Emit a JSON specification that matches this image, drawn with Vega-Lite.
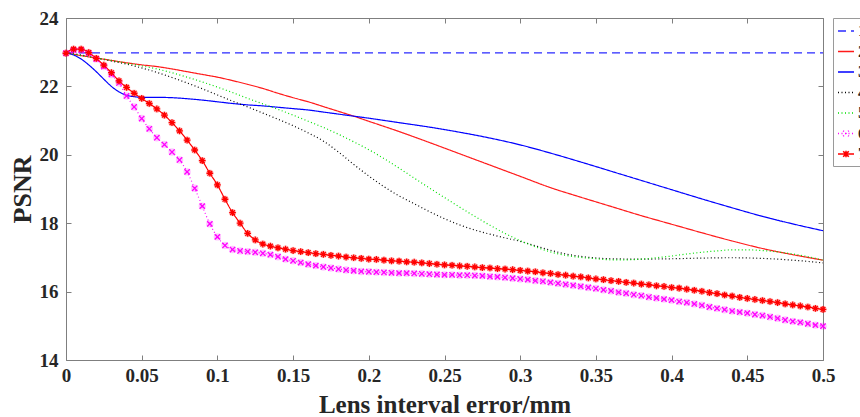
{
"$schema": "https://vega.github.io/schema/vega-lite/v6.json",
"width": 757, "height": 342,
"autosize": "none",
"padding": {"left": 66, "top": 18, "right": 37, "bottom": 57},
"background": "white",
"config": {
  "view": {"stroke": null},
  "font": "Liberation Serif",
  "axis": {"grid": false, "domainColor": "#7f7f7f", "tickColor": "#7f7f7f", "tickSize": -5, "domainWidth": 1, "tickWidth": 1,
    "labelFont": "Liberation Serif", "labelFontWeight": "bold", "labelFontSize": 19, "labelColor": "#262626",
    "titleFont": "Liberation Serif", "titleFontWeight": "bold", "titleFontSize": 25, "titleColor": "#262626",
    "labelFlush": false, "labelOverlap": false, "labelBound": false}
},
"datasets": {
"all": [
{"s":"1","x":0,"y":22.98},{"s":"1","x":0.5,"y":22.98},
{"s":"2","x":0,"y":22.98},{"s":"2","x":0.01,"y":22.9},{"s":"2","x":0.02,"y":22.83},{"s":"2","x":0.03,"y":22.76},{"s":"2","x":0.04,"y":22.69},{"s":"2","x":0.05,"y":22.63},{"s":"2","x":0.06,"y":22.58},{"s":"2","x":0.07,"y":22.51},{"s":"2","x":0.08,"y":22.43},{"s":"2","x":0.09,"y":22.35},{"s":"2","x":0.1,"y":22.27},{"s":"2","x":0.11,"y":22.17},{"s":"2","x":0.12,"y":22.06},{"s":"2","x":0.13,"y":21.94},{"s":"2","x":0.14,"y":21.8},{"s":"2","x":0.15,"y":21.67},{"s":"2","x":0.16,"y":21.55},{"s":"2","x":0.17,"y":21.41},{"s":"2","x":0.18,"y":21.27},{"s":"2","x":0.19,"y":21.13},{"s":"2","x":0.2,"y":20.98},{"s":"2","x":0.22,"y":20.68},{"s":"2","x":0.24,"y":20.36},{"s":"2","x":0.26,"y":20.03},{"s":"2","x":0.28,"y":19.7},{"s":"2","x":0.3,"y":19.37},{"s":"2","x":0.32,"y":19.04},{"s":"2","x":0.34,"y":18.76},{"s":"2","x":0.36,"y":18.49},{"s":"2","x":0.38,"y":18.22},{"s":"2","x":0.4,"y":17.97},{"s":"2","x":0.42,"y":17.72},{"s":"2","x":0.44,"y":17.48},{"s":"2","x":0.46,"y":17.26},{"s":"2","x":0.48,"y":17.08},{"s":"2","x":0.5,"y":16.92},
{"s":"3","x":0,"y":22.98},{"s":"3","x":0.005,"y":22.92},{"s":"3","x":0.01,"y":22.8},{"s":"3","x":0.015,"y":22.63},{"s":"3","x":0.02,"y":22.43},{"s":"3","x":0.025,"y":22.21},{"s":"3","x":0.03,"y":22.0},{"s":"3","x":0.035,"y":21.84},{"s":"3","x":0.04,"y":21.74},{"s":"3","x":0.045,"y":21.7},{"s":"3","x":0.05,"y":21.68},{"s":"3","x":0.06,"y":21.68},{"s":"3","x":0.07,"y":21.67},{"s":"3","x":0.08,"y":21.64},{"s":"3","x":0.09,"y":21.6},{"s":"3","x":0.1,"y":21.55},{"s":"3","x":0.11,"y":21.5},{"s":"3","x":0.12,"y":21.46},{"s":"3","x":0.13,"y":21.43},{"s":"3","x":0.14,"y":21.39},{"s":"3","x":0.15,"y":21.35},{"s":"3","x":0.16,"y":21.31},{"s":"3","x":0.17,"y":21.25},{"s":"3","x":0.18,"y":21.19},{"s":"3","x":0.19,"y":21.13},{"s":"3","x":0.2,"y":21.07},{"s":"3","x":0.22,"y":20.94},{"s":"3","x":0.24,"y":20.81},{"s":"3","x":0.26,"y":20.66},{"s":"3","x":0.28,"y":20.49},{"s":"3","x":0.3,"y":20.29},{"s":"3","x":0.32,"y":20.05},{"s":"3","x":0.34,"y":19.79},{"s":"3","x":0.36,"y":19.52},{"s":"3","x":0.38,"y":19.25},{"s":"3","x":0.4,"y":18.98},{"s":"3","x":0.42,"y":18.71},{"s":"3","x":0.44,"y":18.45},{"s":"3","x":0.46,"y":18.2},{"s":"3","x":0.48,"y":17.98},{"s":"3","x":0.5,"y":17.78},
{"s":"4","x":0,"y":22.98},{"s":"4","x":0.01,"y":22.92},{"s":"4","x":0.02,"y":22.83},{"s":"4","x":0.03,"y":22.74},{"s":"4","x":0.04,"y":22.65},{"s":"4","x":0.05,"y":22.54},{"s":"4","x":0.06,"y":22.41},{"s":"4","x":0.07,"y":22.26},{"s":"4","x":0.08,"y":22.1},{"s":"4","x":0.09,"y":21.93},{"s":"4","x":0.1,"y":21.75},{"s":"4","x":0.11,"y":21.57},{"s":"4","x":0.12,"y":21.4},{"s":"4","x":0.13,"y":21.22},{"s":"4","x":0.14,"y":21.04},{"s":"4","x":0.15,"y":20.85},{"s":"4","x":0.16,"y":20.64},{"s":"4","x":0.17,"y":20.4},{"s":"4","x":0.18,"y":20.08},{"s":"4","x":0.19,"y":19.72},{"s":"4","x":0.2,"y":19.38},{"s":"4","x":0.21,"y":19.07},{"s":"4","x":0.22,"y":18.8},{"s":"4","x":0.23,"y":18.57},{"s":"4","x":0.24,"y":18.34},{"s":"4","x":0.25,"y":18.13},{"s":"4","x":0.26,"y":17.95},{"s":"4","x":0.27,"y":17.8},{"s":"4","x":0.28,"y":17.68},{"s":"4","x":0.29,"y":17.57},{"s":"4","x":0.3,"y":17.47},{"s":"4","x":0.31,"y":17.34},{"s":"4","x":0.32,"y":17.21},{"s":"4","x":0.33,"y":17.1},{"s":"4","x":0.34,"y":17.03},{"s":"4","x":0.36,"y":16.96},{"s":"4","x":0.38,"y":16.95},{"s":"4","x":0.4,"y":16.96},{"s":"4","x":0.42,"y":16.98},{"s":"4","x":0.44,"y":16.99},{"s":"4","x":0.46,"y":16.97},{"s":"4","x":0.48,"y":16.92},{"s":"4","x":0.5,"y":16.84},
{"s":"5","x":0,"y":22.98},{"s":"5","x":0.01,"y":22.9},{"s":"5","x":0.02,"y":22.83},{"s":"5","x":0.03,"y":22.76},{"s":"5","x":0.04,"y":22.68},{"s":"5","x":0.05,"y":22.6},{"s":"5","x":0.06,"y":22.51},{"s":"5","x":0.07,"y":22.4},{"s":"5","x":0.08,"y":22.27},{"s":"5","x":0.09,"y":22.13},{"s":"5","x":0.1,"y":21.98},{"s":"5","x":0.11,"y":21.82},{"s":"5","x":0.12,"y":21.65},{"s":"5","x":0.13,"y":21.49},{"s":"5","x":0.14,"y":21.33},{"s":"5","x":0.15,"y":21.16},{"s":"5","x":0.16,"y":20.98},{"s":"5","x":0.17,"y":20.8},{"s":"5","x":0.18,"y":20.6},{"s":"5","x":0.19,"y":20.38},{"s":"5","x":0.2,"y":20.15},{"s":"5","x":0.21,"y":19.89},{"s":"5","x":0.22,"y":19.61},{"s":"5","x":0.23,"y":19.32},{"s":"5","x":0.24,"y":19.03},{"s":"5","x":0.25,"y":18.75},{"s":"5","x":0.26,"y":18.47},{"s":"5","x":0.27,"y":18.2},{"s":"5","x":0.28,"y":17.94},{"s":"5","x":0.29,"y":17.7},{"s":"5","x":0.3,"y":17.49},{"s":"5","x":0.31,"y":17.31},{"s":"5","x":0.32,"y":17.16},{"s":"5","x":0.33,"y":17.06},{"s":"5","x":0.34,"y":17.0},{"s":"5","x":0.35,"y":16.96},{"s":"5","x":0.36,"y":16.93},{"s":"5","x":0.37,"y":16.93},{"s":"5","x":0.38,"y":16.95},{"s":"5","x":0.39,"y":16.99},{"s":"5","x":0.4,"y":17.04},{"s":"5","x":0.41,"y":17.1},{"s":"5","x":0.42,"y":17.15},{"s":"5","x":0.43,"y":17.19},{"s":"5","x":0.44,"y":17.22},{"s":"5","x":0.45,"y":17.22},{"s":"5","x":0.46,"y":17.2},{"s":"5","x":0.47,"y":17.16},{"s":"5","x":0.48,"y":17.1},{"s":"5","x":0.49,"y":17.02},{"s":"5","x":0.5,"y":16.92},
{"s":"6","x":0,"y":22.97},{"s":"6","x":0.005,"y":23.06},{"s":"6","x":0.01,"y":23.06},{"s":"6","x":0.015,"y":22.97},{"s":"6","x":0.02,"y":22.8},{"s":"6","x":0.025,"y":22.58},{"s":"6","x":0.03,"y":22.35},{"s":"6","x":0.035,"y":22.1},{"s":"6","x":0.04,"y":21.72},{"s":"6","x":0.045,"y":21.4},{"s":"6","x":0.05,"y":21.06},{"s":"6","x":0.055,"y":20.76},{"s":"6","x":0.06,"y":20.5},{"s":"6","x":0.065,"y":20.3},{"s":"6","x":0.07,"y":20.08},{"s":"6","x":0.075,"y":19.85},{"s":"6","x":0.08,"y":19.5},{"s":"6","x":0.085,"y":19.02},{"s":"6","x":0.09,"y":18.5},{"s":"6","x":0.095,"y":17.98},{"s":"6","x":0.1,"y":17.6},{"s":"6","x":0.105,"y":17.35},{"s":"6","x":0.11,"y":17.23},{"s":"6","x":0.115,"y":17.19},{"s":"6","x":0.12,"y":17.17},{"s":"6","x":0.125,"y":17.15},{"s":"6","x":0.13,"y":17.12},{"s":"6","x":0.135,"y":17.08},{"s":"6","x":0.14,"y":17.02},{"s":"6","x":0.145,"y":16.95},{"s":"6","x":0.15,"y":16.9},{"s":"6","x":0.155,"y":16.85},{"s":"6","x":0.16,"y":16.8},{"s":"6","x":0.165,"y":16.76},{"s":"6","x":0.17,"y":16.72},{"s":"6","x":0.175,"y":16.69},{"s":"6","x":0.18,"y":16.66},{"s":"6","x":0.185,"y":16.63},{"s":"6","x":0.19,"y":16.61},{"s":"6","x":0.195,"y":16.59},{"s":"6","x":0.2,"y":16.58},{"s":"6","x":0.205,"y":16.57},{"s":"6","x":0.21,"y":16.56},{"s":"6","x":0.215,"y":16.55},{"s":"6","x":0.22,"y":16.54},{"s":"6","x":0.225,"y":16.54},{"s":"6","x":0.23,"y":16.53},{"s":"6","x":0.235,"y":16.52},{"s":"6","x":0.24,"y":16.51},{"s":"6","x":0.245,"y":16.5},{"s":"6","x":0.25,"y":16.49},{"s":"6","x":0.255,"y":16.49},{"s":"6","x":0.26,"y":16.48},{"s":"6","x":0.265,"y":16.48},{"s":"6","x":0.27,"y":16.47},{"s":"6","x":0.275,"y":16.46},{"s":"6","x":0.28,"y":16.44},{"s":"6","x":0.285,"y":16.43},{"s":"6","x":0.29,"y":16.41},{"s":"6","x":0.295,"y":16.39},{"s":"6","x":0.3,"y":16.37},{"s":"6","x":0.305,"y":16.35},{"s":"6","x":0.31,"y":16.32},{"s":"6","x":0.315,"y":16.3},{"s":"6","x":0.32,"y":16.27},{"s":"6","x":0.325,"y":16.24},{"s":"6","x":0.33,"y":16.21},{"s":"6","x":0.335,"y":16.18},{"s":"6","x":0.34,"y":16.15},{"s":"6","x":0.345,"y":16.12},{"s":"6","x":0.35,"y":16.09},{"s":"6","x":0.355,"y":16.05},{"s":"6","x":0.36,"y":16.02},{"s":"6","x":0.365,"y":15.98},{"s":"6","x":0.37,"y":15.95},{"s":"6","x":0.375,"y":15.91},{"s":"6","x":0.38,"y":15.88},{"s":"6","x":0.385,"y":15.84},{"s":"6","x":0.39,"y":15.81},{"s":"6","x":0.395,"y":15.78},{"s":"6","x":0.4,"y":15.75},{"s":"6","x":0.405,"y":15.71},{"s":"6","x":0.41,"y":15.68},{"s":"6","x":0.415,"y":15.64},{"s":"6","x":0.42,"y":15.6},{"s":"6","x":0.425,"y":15.55},{"s":"6","x":0.43,"y":15.51},{"s":"6","x":0.435,"y":15.47},{"s":"6","x":0.44,"y":15.43},{"s":"6","x":0.445,"y":15.4},{"s":"6","x":0.45,"y":15.37},{"s":"6","x":0.455,"y":15.33},{"s":"6","x":0.46,"y":15.3},{"s":"6","x":0.465,"y":15.26},{"s":"6","x":0.47,"y":15.22},{"s":"6","x":0.475,"y":15.17},{"s":"6","x":0.48,"y":15.13},{"s":"6","x":0.485,"y":15.1},{"s":"6","x":0.49,"y":15.06},{"s":"6","x":0.495,"y":15.02},{"s":"6","x":0.5,"y":14.99},
{"s":"7","x":0,"y":22.97},{"s":"7","x":0.005,"y":23.09},{"s":"7","x":0.01,"y":23.09},{"s":"7","x":0.015,"y":22.99},{"s":"7","x":0.02,"y":22.82},{"s":"7","x":0.025,"y":22.62},{"s":"7","x":0.03,"y":22.4},{"s":"7","x":0.035,"y":22.16},{"s":"7","x":0.04,"y":21.97},{"s":"7","x":0.045,"y":21.8},{"s":"7","x":0.05,"y":21.65},{"s":"7","x":0.055,"y":21.5},{"s":"7","x":0.06,"y":21.34},{"s":"7","x":0.065,"y":21.16},{"s":"7","x":0.07,"y":20.94},{"s":"7","x":0.075,"y":20.7},{"s":"7","x":0.08,"y":20.43},{"s":"7","x":0.085,"y":20.14},{"s":"7","x":0.09,"y":19.83},{"s":"7","x":0.095,"y":19.46},{"s":"7","x":0.1,"y":19.12},{"s":"7","x":0.105,"y":18.7},{"s":"7","x":0.11,"y":18.31},{"s":"7","x":0.115,"y":18.0},{"s":"7","x":0.12,"y":17.7},{"s":"7","x":0.125,"y":17.51},{"s":"7","x":0.13,"y":17.39},{"s":"7","x":0.135,"y":17.33},{"s":"7","x":0.14,"y":17.28},{"s":"7","x":0.145,"y":17.24},{"s":"7","x":0.15,"y":17.2},{"s":"7","x":0.155,"y":17.17},{"s":"7","x":0.16,"y":17.14},{"s":"7","x":0.165,"y":17.11},{"s":"7","x":0.17,"y":17.09},{"s":"7","x":0.175,"y":17.06},{"s":"7","x":0.18,"y":17.04},{"s":"7","x":0.185,"y":17.01},{"s":"7","x":0.19,"y":16.99},{"s":"7","x":0.195,"y":16.97},{"s":"7","x":0.2,"y":16.95},{"s":"7","x":0.205,"y":16.94},{"s":"7","x":0.21,"y":16.92},{"s":"7","x":0.215,"y":16.9},{"s":"7","x":0.22,"y":16.89},{"s":"7","x":0.225,"y":16.87},{"s":"7","x":0.23,"y":16.86},{"s":"7","x":0.235,"y":16.84},{"s":"7","x":0.24,"y":16.82},{"s":"7","x":0.245,"y":16.8},{"s":"7","x":0.25,"y":16.78},{"s":"7","x":0.255,"y":16.77},{"s":"7","x":0.26,"y":16.75},{"s":"7","x":0.265,"y":16.74},{"s":"7","x":0.27,"y":16.72},{"s":"7","x":0.275,"y":16.7},{"s":"7","x":0.28,"y":16.69},{"s":"7","x":0.285,"y":16.67},{"s":"7","x":0.29,"y":16.66},{"s":"7","x":0.295,"y":16.64},{"s":"7","x":0.3,"y":16.62},{"s":"7","x":0.305,"y":16.6},{"s":"7","x":0.31,"y":16.58},{"s":"7","x":0.315,"y":16.55},{"s":"7","x":0.32,"y":16.53},{"s":"7","x":0.325,"y":16.5},{"s":"7","x":0.33,"y":16.48},{"s":"7","x":0.335,"y":16.45},{"s":"7","x":0.34,"y":16.43},{"s":"7","x":0.345,"y":16.4},{"s":"7","x":0.35,"y":16.37},{"s":"7","x":0.355,"y":16.35},{"s":"7","x":0.36,"y":16.32},{"s":"7","x":0.365,"y":16.3},{"s":"7","x":0.37,"y":16.27},{"s":"7","x":0.375,"y":16.25},{"s":"7","x":0.38,"y":16.22},{"s":"7","x":0.385,"y":16.2},{"s":"7","x":0.39,"y":16.17},{"s":"7","x":0.395,"y":16.15},{"s":"7","x":0.4,"y":16.12},{"s":"7","x":0.405,"y":16.1},{"s":"7","x":0.41,"y":16.07},{"s":"7","x":0.415,"y":16.04},{"s":"7","x":0.42,"y":16.01},{"s":"7","x":0.425,"y":15.97},{"s":"7","x":0.43,"y":15.94},{"s":"7","x":0.435,"y":15.9},{"s":"7","x":0.44,"y":15.87},{"s":"7","x":0.445,"y":15.83},{"s":"7","x":0.45,"y":15.8},{"s":"7","x":0.455,"y":15.77},{"s":"7","x":0.46,"y":15.74},{"s":"7","x":0.465,"y":15.71},{"s":"7","x":0.47,"y":15.68},{"s":"7","x":0.475,"y":15.64},{"s":"7","x":0.48,"y":15.61},{"s":"7","x":0.485,"y":15.58},{"s":"7","x":0.49,"y":15.55},{"s":"7","x":0.495,"y":15.51},{"s":"7","x":0.5,"y":15.48}
]
},
"data": {"name": "all"},
"layer": [
  {
    "mark": {"type": "line", "interpolate": "monotone", "strokeWidth": 1.2},
    "encoding": {
      "x": {"field": "x", "type": "quantitative", "scale": {"domain": [0, 0.5], "nice": false, "zero": false},
        "axis": {"orient": "bottom", "values": [0,0.05,0.1,0.15,0.2,0.25,0.3,0.35,0.4,0.45,0.5], "format": "~g", "labelPadding": 11,
          "labelFont": "Liberation Serif", "labelFontWeight": "bold", "labelFontSize": 19,
          "title": "Lens interval error/mm", "titlePadding": 7}},
      "y": {"field": "y", "type": "quantitative", "scale": {"domain": [14, 24], "nice": false, "zero": false},
        "axis": {"orient": "left", "values": [14,16,18,20,22,24], "labelPadding": 13,
          "labelFont": "Liberation Serif", "labelFontWeight": "bold", "labelFontSize": 19,
          "title": "PSNR", "titleFontSize": 26, "titlePadding": 4}},
      "color": {"field": "s", "type": "nominal",
        "scale": {"domain": ["1","2","3","4","5","6","7"], "range": ["#2a2aff","#ff1a1a","#0000ff","#000000","#00e000","#ff00ff","#ff0000"]},
        "legend": {"title": null, "orient": "right", "offset": 7, "padding": 4, "strokeColor": "#9a9a9a", "fillColor": "white",
          "symbolType": "stroke", "symbolSize": 256, "symbolStrokeWidth": 1.5, "rowPadding": 3.5, "labelOffset": 3,
          "labelFont": "Liberation Serif", "labelFontWeight": "bold", "labelFontSize": 17, "labelColor": "#262626",
          "encode": {"symbols": {"update": {
            "shape": {"signal": "datum.value === '6' ? 'M-1,0L1,0M-0.35,-0.35L0.35,0.35M-0.35,0.35L0.35,-0.35' : datum.value === '7' ? 'M-1,0L1,0M0,-0.4L0,0.4M-0.35,-0.35L0.35,0.35M-0.35,0.35L0.35,-0.35M-0.4,0L0.4,0' : 'stroke'"},
            "strokeDash": {"signal": "datum.value === '1' ? [5,3] : (datum.value === '4' || datum.value === '5' || datum.value === '6') ? [1,2] : [1,0]"}
          }}}}},
      "strokeDash": {"field": "s", "type": "nominal",
        "scale": {"domain": ["1","2","3","4","5","6","7"], "range": [[8,5],[1,0],[1,0],[1,2.5],[1,2.5],[1,2.5],[1,0]]},
        "legend": null}
    }
  },
  {
    "transform": [{"filter": "datum.s === '6' || datum.s === '7'"}],
    "mark": {"type": "point", "filled": true, "shape": "circle", "size": 55, "opacity": 0.22, "strokeWidth": 0},
    "encoding": {
      "x": {"field": "x", "type": "quantitative", "axis": null},
      "y": {"field": "y", "type": "quantitative", "axis": null},
      "color": {"field": "s", "type": "nominal", "legend": null}
    }
  },
  {
    "transform": [{"filter": "datum.s === '6' || datum.s === '7'"}],
    "mark": {"type": "point", "filled": false, "strokeWidth": 1.3, "size": 45, "opacity": 1},
    "encoding": {
      "x": {"field": "x", "type": "quantitative", "axis": {"orient": "top", "values": [0,0.05,0.1,0.15,0.2,0.25,0.3,0.35,0.4,0.45,0.5], "labels": false, "title": null}},
      "y": {"field": "y", "type": "quantitative", "axis": {"orient": "right", "values": [14,16,18,20,22,24], "labels": false, "title": null}},
      "color": {"field": "s", "type": "nominal", "legend": null},
      "shape": {"field": "s", "type": "nominal", "legend": null,
        "scale": {"domain": ["6","7"], "range": ["M-0.8,-0.8L0.8,0.8M-0.8,0.8L0.8,-0.8", "M-1,0L1,0M0,-1L0,1M-0.7,-0.7L0.7,0.7M-0.7,0.7L0.7,-0.7"]}}
    }
  }
],
"resolve": {"axis": {"x": "independent", "y": "independent"}}
}
